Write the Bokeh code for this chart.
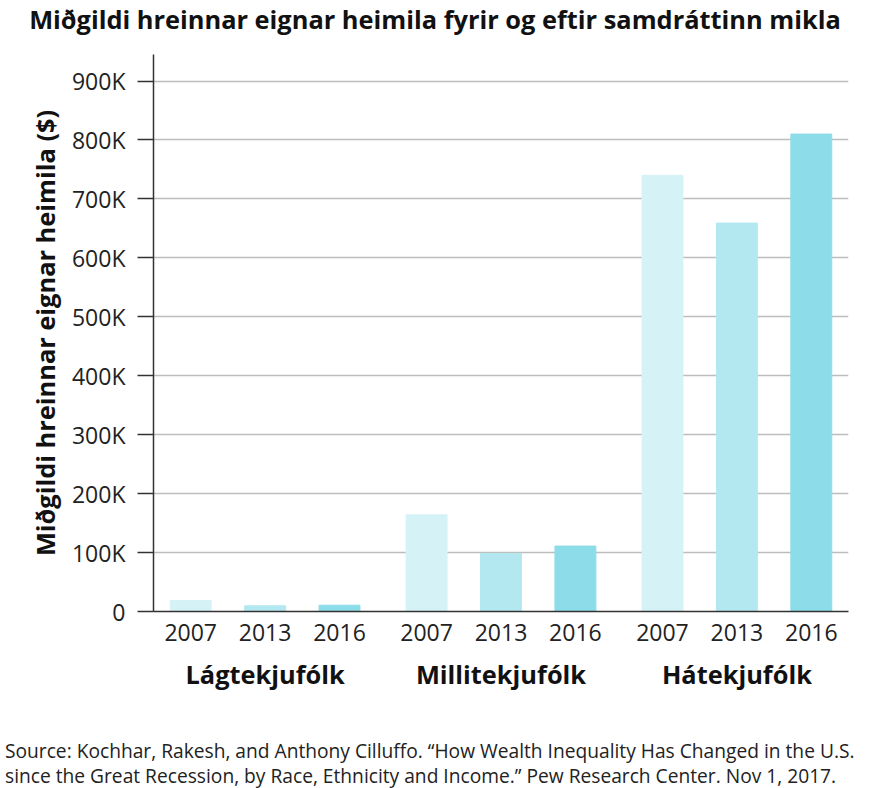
from bokeh.plotting import figure
from bokeh.models import ColumnDataSource, FactorRange, Div, CategoricalAxis, CustomJSTickFormatter
from bokeh.layouts import column
from bokeh.embed import file_html
from bokeh.resources import INLINE

groups = ["Lágtekjufólk", "Millitekjufólk", "Hátekjufólk"]
years = ["2007", "2013", "2016"]
low = [18700, 9700, 10700]
middle = [164000, 98500, 111000]
high = [740000, 659000, 810000]
colors = ["#d5f2f7", "#b3e8f0", "#8cdde9"]
yticks = [0, 100000, 200000, 300000, 400000, 500000, 600000, 700000, 800000, 900000]

FONT = "Open Sans"
GP = 0.17  # padding between groups, in bar slots

factors = [(g, y) for g in groups for y in years]
vals = low + middle + high
source = ColumnDataSource(data=dict(x=factors, top=vals, color=colors * 3))

p = figure(x_range=FactorRange(*factors, group_padding=GP, range_padding=0),
           y_range=(0, 945000), frame_width=695, frame_height=557,
           output_backend="svg", toolbar_location=None,
           min_border_left=153, min_border_top=16, min_border_right=16, min_border_bottom=122)

# second range so the group names can sit lower than the years
f = 1.5 / (9 + 2 * GP)
pad = (3 * f - 0.5) / (1 - 2 * f)
p.extra_x_ranges = {"groups": FactorRange(*groups, range_padding=pad, range_padding_units="absolute")}

p.vbar(x="x", top="top", width=0.55, color="color", source=source)

p.outline_line_color = None
p.background_fill_color = "white"
p.border_fill_color = "white"

p.xgrid.grid_line_color = None
p.ygrid.grid_line_color = "#bdbdbd"
p.ygrid.grid_line_width = 1.5
p.ygrid.ticker = yticks

p.yaxis.ticker = yticks
p.yaxis.formatter = CustomJSTickFormatter(code="return tick == 0 ? '0' : (tick / 1000) + 'K'")
p.yaxis.axis_label = "Miðgildi hreinnar eignar heimila ($)"
p.yaxis.axis_label_text_font = FONT
p.yaxis.axis_label_text_font_size = "25.4px"
p.yaxis.axis_label_text_font_style = "bold"
p.yaxis.axis_label_text_color = "#111111"
p.yaxis.axis_label_standoff = 7
p.yaxis.major_label_text_font = FONT
p.yaxis.major_label_text_font_size = "23px"
p.yaxis.major_label_text_color = "#222222"
p.yaxis.major_label_standoff = 12
p.yaxis.major_tick_out = 16
p.yaxis.major_tick_in = 0
p.yaxis.minor_tick_out = 0
p.yaxis.minor_tick_in = 0
p.yaxis.axis_line_color = "#333333"
p.yaxis.axis_line_width = 1.5
p.yaxis.major_tick_line_color = "#333333"
p.yaxis.major_tick_line_width = 1.5

xa = p.xaxis[0]
xa.major_tick_line_color = None
xa.minor_tick_line_color = None
xa.axis_line_color = "#333333"
xa.axis_line_width = 1.5
xa.major_label_text_font = FONT
xa.major_label_text_font_size = "23px"
xa.major_label_text_color = "#222222"
xa.major_label_standoff = 6
xa.group_text_font_size = "1px"
xa.group_text_color = None
xa.separator_line_color = None

ga = CategoricalAxis(x_range_name="groups")
ga.axis_line_color = None
ga.major_tick_line_color = None
ga.minor_tick_line_color = None
ga.major_label_text_font = FONT
ga.major_label_text_font_size = "25.4px"
ga.major_label_text_font_style = "bold"
ga.major_label_text_color = "#111111"
ga.major_label_standoff = 7
p.add_layout(ga, "below")

title = Div(text="Miðgildi hreinnar eignar heimila fyrir og eftir samdráttinn mikla",
            width=860, height=28,
            styles={"font-family": FONT, "font-size": "25.4px", "font-weight": "bold",
                    "color": "#111111", "line-height": "28px", "text-align": "center",
                    "white-space": "nowrap", "width": "860px"})

src = Div(text="Source: Kochhar, Rakesh, and Anthony Cilluffo. “How Wealth Inequality Has Changed in the U.S.<br>"
               "since the Great Recession, by Race, Ethnicity and Income.” Pew Research Center. Nov 1, 2017.",
          width=866, styles={"font-family": FONT, "font-size": "19.2px", "color": "#222222",
                             "line-height": "25px", "white-space": "nowrap"})

layout = column(title, p, src, spacing=0)

open("out.html", "w").write(file_html(layout, INLINE))
